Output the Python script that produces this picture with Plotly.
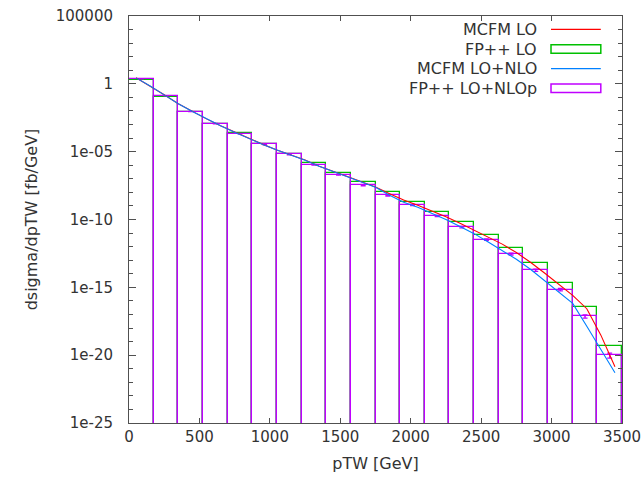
import plotly.graph_objects as go

# ---------------- data ----------------
bin_centers = [87.5, 262.5, 437.5, 612.5, 787.5, 962.5, 1137.5, 1312.5, 1487.5, 1662.5,
               1837.5, 2012.5, 2187.5, 2362.5, 2537.5, 2712.5, 2887.5, 3062.5, 3237.5, 3412.5]
bin_width = 175

fp_lo = [2.06, 0.1057, 8.7e-3, 1.14e-3, 2.27e-4, 3.51e-5, 7.24e-6, 1.47e-6, 2.69e-7, 5.56e-8,
         9.84e-9, 2.10e-9, 3.60e-10, 6.61e-11, 7.76e-12, 7.94e-13, 6.31e-14, 2.24e-15, 3.39e-17, 4.79e-20]

fp_nlo = [2.36, 0.1315, 9.0e-3, 1.18e-3, 2.08e-4, 3.51e-5, 6.22e-6, 1.08e-6, 1.99e-7, 3.34e-8,
          5.92e-9, 1.18e-9, 1.83e-10, 2.75e-11, 3.31e-12, 2.88e-13, 1.82e-14, 6.92e-16, 7.41e-18, 1.0e-20]
fp_nlo_relerr = [0.02, 0.02, 0.02, 0.03, 0.03, 0.04, 0.05, 0.06, 0.07, 0.08,
                 0.09, 0.10, 0.11, 0.12, 0.14, 0.16, 0.18, 0.22, 0.28, 0.40]

mcfm_pt = [50, 150, 250, 350, 450, 550, 650, 750, 850, 950, 1050, 1150, 1250, 1350, 1450, 1550,
           1650, 1750, 1850, 1950, 2050, 2150, 2250, 2350, 2450, 2550, 2650, 2750, 2850, 2950,
           3050, 3150, 3250, 3350, 3450]

mcfm_lo = [2.79, 0.706, 0.156, 0.0344, 9.3e-3, 2.61e-3, 8.24e-4, 2.74e-4, 9.2e-5, 3.45e-5,
           1.33e-5, 5.81e-6, 2.40e-6, 8.55e-7, 3.36e-7, 1.46e-7, 6.15e-8, 2.51e-8, 8.04e-9, 2.71e-9,
           1.14e-9, 4.49e-10, 1.60e-10, 5.20e-11, 1.64e-11, 5.27e-12, 1.53e-12, 3.67e-13, 7.08e-14,
           1.13e-14, 1.69e-15, 2.53e-16, 2.65e-17, 3.0e-19, 1.41e-21]

mcfm_nlo = [2.75, 0.70, 0.154, 0.0340, 9.2e-3, 2.58e-3, 8.1e-4, 2.70e-4, 9.0e-5, 3.40e-5,
            1.31e-5, 5.70e-6, 2.35e-6, 8.4e-7, 3.28e-7, 1.42e-7, 5.9e-8, 2.35e-8, 6.22e-9, 1.90e-9,
            8.13e-10, 3.04e-10, 9.9e-11, 3.02e-11, 9.06e-12, 2.22e-12, 5.15e-13, 1.16e-13, 2.16e-14,
            3.17e-15, 4.82e-16, 6.52e-17, 1.36e-18, 2.75e-20, 5.09e-22]

ytick_vals = [1e5, 1, 1e-5, 1e-10, 1e-15, 1e-20, 1e-25]
ytick_text = ["100000", "1", "1e-05", "1e-10", "1e-15", "1e-20", "1e-25"]
ytick_minor = [10.0 ** k for k in range(-24, 5)]
xtick_vals = [0, 500, 1000, 1500, 2000, 2500, 3000, 3500]

legend_labels = ["MCFM LO", "FP++ LO", "MCFM LO+NLO", "FP++ LO+NLOp"]

# ---------------- styles ----------------
RED = "#ff0000"
GREEN = "#00c000"
BLUE = "#0080ff"
MAG = "#c000ff"
AXC = "#505050"
TXT = "#333333"
FONT = "DejaVu Sans"

fig = go.Figure()

fig.add_trace(go.Bar(x=bin_centers, y=fp_lo, width=bin_width,
                     marker=dict(color="rgba(0,0,0,0)", line=dict(color=GREEN, width=1.3)),
                     showlegend=False))
fig.add_trace(go.Bar(x=bin_centers, y=fp_nlo, width=bin_width,
                     marker=dict(color="rgba(0,0,0,0)", line=dict(color=MAG, width=1.3)),
                     showlegend=False))
fig.add_trace(go.Scatter(x=bin_centers, y=fp_nlo, mode="markers",
                         marker=dict(size=1, color=MAG),
                         error_y=dict(type="data", array=[v * e for v, e in zip(fp_nlo, fp_nlo_relerr)],
                                      color=MAG, thickness=1.3, width=2.5),
                         showlegend=False))
fig.add_trace(go.Scatter(x=mcfm_pt, y=mcfm_lo, mode="lines",
                         line=dict(color=RED, width=1.1), showlegend=False))
fig.add_trace(go.Scatter(x=mcfm_pt, y=mcfm_nlo, mode="lines",
                         line=dict(color=BLUE, width=1.1), showlegend=False))

# ---------------- manual key (gnuplot style: text then sample) ----------------
# plot area: x 129..622 px (493), y 16..423 px (407)
key_y = [0.9673, 0.9189, 0.8707, 0.8223]
key_text_x = 0.8320
key_x0, key_x1 = 0.856, 0.957
box_h = 0.0105
kinds = ["line", "box", "line", "box"]
kcols = [RED, GREEN, BLUE, MAG]
for lab, yy, kind, col in zip(legend_labels, key_y, kinds, kcols):
    fig.add_annotation(x=key_text_x, y=yy, xref="paper", yref="paper", text=lab,
                       showarrow=False, xanchor="right", yanchor="middle",
                       font=dict(family=FONT, size=16, color=TXT))
    if kind == "line":
        fig.add_shape(type="line", xref="paper", yref="paper", x0=key_x0, x1=key_x1,
                      y0=yy, y1=yy, line=dict(color=col, width=1.3))
    else:
        fig.add_shape(type="rect", xref="paper", yref="paper", x0=key_x0, x1=key_x1,
                      y0=yy - box_h, y1=yy + box_h, line=dict(color=col, width=1.5))

fig.update_layout(
    width=644, height=479,
    margin=dict(l=129, r=22, t=16, b=56, pad=0, autoexpand=False),
    paper_bgcolor="white", plot_bgcolor="white",
    barmode="overlay", bargap=0,
    font=dict(family=FONT, size=15, color=TXT),
    showlegend=False,
)
fig.update_xaxes(
    range=[0, 3500], tickmode="array", tickvals=xtick_vals,
    ticks="inside", ticklen=5, tickcolor=AXC, showline=True, linecolor=AXC, linewidth=1,
    mirror="allticks", showgrid=False, zeroline=False, automargin=False,
    title=dict(text="pTW [GeV]", font=dict(family=FONT, size=16, color=TXT), standoff=12),
    tickfont=dict(family=FONT, size=15, color=TXT),
)
fig.update_yaxes(
    type="log", range=[-25, 5], tickmode="array", tickvals=ytick_vals, ticktext=ytick_text,
    ticks="inside", ticklen=7, tickcolor=AXC, showline=True, linecolor=AXC, linewidth=1,
    mirror="allticks", showgrid=False, zeroline=False, automargin=False,
    minor=dict(tickmode="array", tickvals=ytick_minor, ticks="inside", ticklen=4, tickcolor=AXC,
               showgrid=False),
    ticklabelstandoff=12,
    title=dict(text="dsigma/dpTW [fb/GeV]", font=dict(family=FONT, size=16, color=TXT), standoff=14),
    tickfont=dict(family=FONT, size=15, color=TXT),
)

fig.write_html("out.html")
